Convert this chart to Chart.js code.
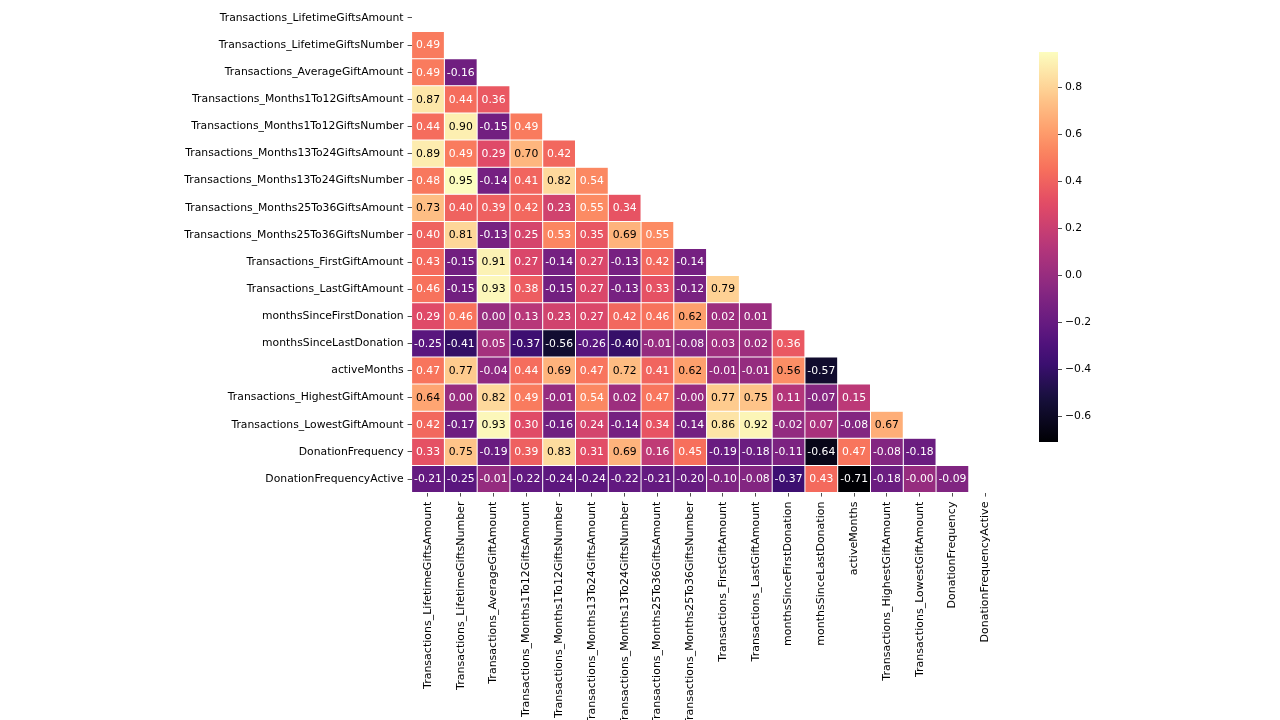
<!DOCTYPE html>
<html>
<head>
<meta charset="utf-8">
<script src="https://cdn.jsdelivr.net/npm/chart.js@4.4.1/dist/chart.umd.min.js"></script>
<style>
  html, body { margin: 0; padding: 0; background: #fff; }
  #wrap { position: relative; width: 1280px; height: 720px; overflow: hidden; }
  #main { position: absolute; left: 0; top: 0; width: 1280px; height: 720px; }
  #cbar { position: absolute; left: 1039px; top: 0; width: 80px; height: 720px; }
</style>
</head>
<body>
<div id="wrap">
  <div id="main"><canvas id="heat"></canvas></div>
  <div id="cbar"><canvas id="bar"></canvas></div>
</div>
<script>
const variables = [
  "Transactions_LifetimeGiftsAmount",
  "Transactions_LifetimeGiftsNumber",
  "Transactions_AverageGiftAmount",
  "Transactions_Months1To12GiftsAmount",
  "Transactions_Months1To12GiftsNumber",
  "Transactions_Months13To24GiftsAmount",
  "Transactions_Months13To24GiftsNumber",
  "Transactions_Months25To36GiftsAmount",
  "Transactions_Months25To36GiftsNumber",
  "Transactions_FirstGiftAmount",
  "Transactions_LastGiftAmount",
  "monthsSinceFirstDonation",
  "monthsSinceLastDonation",
  "activeMonths",
  "Transactions_HighestGiftAmount",
  "Transactions_LowestGiftAmount",
  "DonationFrequency",
  "DonationFrequencyActive"
];

// lower-triangle correlations, row i holds columns 0..i-1
const corrRows = [
  [],
  [0.49],
  [0.49, -0.16],
  [0.87, 0.44, 0.36],
  [0.44, 0.90, -0.15, 0.49],
  [0.89, 0.49, 0.29, 0.70, 0.42],
  [0.48, 0.95, -0.14, 0.41, 0.82, 0.54],
  [0.73, 0.40, 0.39, 0.42, 0.23, 0.55, 0.34],
  [0.40, 0.81, -0.13, 0.25, 0.53, 0.35, 0.69, 0.55],
  [0.43, -0.15, 0.91, 0.27, -0.14, 0.27, -0.13, 0.42, -0.14],
  [0.46, -0.15, 0.93, 0.38, -0.15, 0.27, -0.13, 0.33, -0.12, 0.79],
  [0.29, 0.46, 0.00, 0.13, 0.23, 0.27, 0.42, 0.46, 0.62, 0.02, 0.01],
  [-0.25, -0.41, 0.05, -0.37, -0.56, -0.26, -0.40, -0.01, -0.08, 0.03, 0.02, 0.36],
  [0.47, 0.77, -0.04, 0.44, 0.69, 0.47, 0.72, 0.41, 0.62, -0.01, -0.01, 0.56, -0.57],
  [0.64, 0.00, 0.82, 0.49, -0.01, 0.54, 0.02, 0.47, -0.004, 0.77, 0.75, 0.11, -0.07, 0.15],
  [0.42, -0.17, 0.93, 0.30, -0.16, 0.24, -0.14, 0.34, -0.14, 0.86, 0.92, -0.02, 0.07, -0.08, 0.67],
  [0.33, 0.75, -0.19, 0.39, 0.83, 0.31, 0.69, 0.16, 0.45, -0.19, -0.18, -0.11, -0.64, 0.47, -0.08, -0.18],
  [-0.21, -0.25, -0.01, -0.22, -0.24, -0.24, -0.22, -0.21, -0.20, -0.10, -0.08, -0.37, 0.43, -0.71, -0.18, -0.004, -0.09]
];

// colour bar range and ticks
const colorMin = -0.71;
const colorMax = 0.95;
const colorbarTicks = [-0.6, -0.4, -0.2, 0.0, 0.2, 0.4, 0.6, 0.8];

// magma colormap anchors
const magmaStops = [
  [0.000, "#000004"], [0.100, "#140e36"], [0.125, "#1c1044"], [0.200, "#3b0f70"],
  [0.250, "#4f127b"], [0.300, "#641a80"], [0.375, "#812581"], [0.400, "#8c2981"],
  [0.500, "#b5367a"], [0.600, "#de4968"], [0.625, "#e55064"], [0.700, "#f7705c"],
  [0.750, "#fb8761"], [0.800, "#fe9f6d"], [0.875, "#fec287"], [0.900, "#fecf92"],
  [1.000, "#fcfdbf"]
];

function hexToRgb(h) {
  return [parseInt(h.slice(1,3),16), parseInt(h.slice(3,5),16), parseInt(h.slice(5,7),16)];
}
function magma(t) {
  t = Math.max(0, Math.min(1, t));
  for (let k = 1; k < magmaStops.length; k++) {
    if (t <= magmaStops[k][0]) {
      const [t0, c0] = magmaStops[k-1], [t1, c1] = magmaStops[k];
      const f = (t - t0) / (t1 - t0);
      const a = hexToRgb(c0), b = hexToRgb(c1);
      return a.map((v, i) => Math.round(v + (b[i] - v) * f));
    }
  }
  return hexToRgb(magmaStops[magmaStops.length-1][1]);
}
function cellRgb(v) { return magma((v - colorMin) / (colorMax - colorMin)); }
function cellColor(v) { const c = cellRgb(v); return `rgb(${c[0]},${c[1]},${c[2]})`; }
function textColor(v) {
  const lin = cellRgb(v).map(c => { c /= 255; return c <= 0.03928 ? c / 12.92 : Math.pow((c + 0.055) / 1.055, 2.4); });
  const lum = 0.2126 * lin[0] + 0.7152 * lin[1] + 0.0722 * lin[2];
  return lum > 0.403 ? "#000000" : "#ffffff";
}

Chart.defaults.font.family = "'DejaVu Sans', sans-serif";
Chart.defaults.font.size = 10.8;
Chart.defaults.color = "#000";

const n = variables.length;
const datasets = corrRows.map((row, i) => ({
  label: variables[i],
  data: variables.map((_, j) => (j < row.length ? [i - 0.5, i + 0.5] : null)),
  backgroundColor: ctx => {
    const v = corrRows[ctx.datasetIndex][ctx.dataIndex];
    return v === undefined ? "rgba(0,0,0,0)" : cellColor(v);
  },
  borderColor: "#ffffff",
  borderWidth: 0.5,
  borderSkipped: false,
  grouped: false,
  barPercentage: 1.0,
  categoryPercentage: 1.0,
  inflateAmount: 0
}));

const annotate = {
  id: "annotate",
  afterDatasetsDraw(chart) {
    const c = chart.ctx;
    c.save();
    c.font = "10.8px 'DejaVu Sans', sans-serif";
    c.textAlign = "center";
    c.textBaseline = "middle";
    chart.data.datasets.forEach((ds, i) => {
      const meta = chart.getDatasetMeta(i);
      meta.data.forEach((el, j) => {
        const v = corrRows[i][j];
        if (v === undefined) return;
        const p = el.getCenterPoint();
        c.fillStyle = textColor(v);
        c.fillText(v.toFixed(2), p.x, p.y + 0.5);
      });
    });
    c.restore();
  }
};

function zeroPad(s) { s.paddingTop = 0; s.paddingBottom = 0; s.paddingLeft = 0; s.paddingRight = 0; }

new Chart(document.getElementById("heat"), {
  type: "bar",
  data: { labels: variables, datasets },
  options: {
    responsive: true,
    maintainAspectRatio: false,
    animation: false,
    events: [],
    layout: { padding: { left: 0, right: 278.4, top: 4.4, bottom: 0 } },
    plugins: { legend: { display: false }, tooltip: { enabled: false } },
    scales: {
      x: {
        type: "category",
        offset: true,
        border: { display: false },
        grid: { display: true, drawOnChartArea: false, drawTicks: true, tickLength: 4, color: "#222", offset: false, lineWidth: 0.8 },
        ticks: { autoSkip: false, maxRotation: 90, minRotation: 90, padding: 5, color: "#000", font: { size: 11 } },
        afterFit: s => { s.height = 227.4; zeroPad(s); }
      },
      y: {
        type: "linear",
        reverse: true,
        min: -0.5,
        max: n - 0.5,
        border: { display: false },
        grid: { display: true, drawOnChartArea: false, drawTicks: true, tickLength: 4, color: "#222", lineWidth: 0.8 },
        afterBuildTicks: s => { s.ticks = variables.map((_, i) => ({ value: i })); },
        ticks: { autoSkip: false, padding: 4, color: "#000", callback: v => variables[v] },
        afterFit: s => { s.width = 411.6; zeroPad(s); }
      }
    }
  },
  plugins: [annotate]
});

new Chart(document.getElementById("bar"), {
  type: "bar",
  data: {
    labels: ["scale"],
    datasets: [{
      data: [[colorMin, colorMax]],
      backgroundColor: ctx => {
        const ca = ctx.chart.chartArea;
        if (!ca) return "#000";
        const g = ctx.chart.ctx.createLinearGradient(0, ca.bottom, 0, ca.top);
        magmaStops.forEach(([t, col]) => g.addColorStop(t, col));
        return g;
      },
      borderWidth: 0,
      barPercentage: 1.0,
      categoryPercentage: 1.0,
      inflateAmount: 0
    }]
  },
  options: {
    responsive: true,
    maintainAspectRatio: false,
    animation: false,
    events: [],
    layout: { padding: { left: 0, right: 0, top: 52, bottom: 278 } },
    plugins: { legend: { display: false }, tooltip: { enabled: false } },
    scales: {
      x: { display: false },
      y: {
        position: "right",
        min: colorMin,
        max: colorMax,
        border: { display: false },
        grid: { display: true, drawOnChartArea: false, drawTicks: true, tickLength: 4, color: "#222", lineWidth: 0.8 },
        afterBuildTicks: s => { s.ticks = colorbarTicks.map(v => ({ value: v })); },
        ticks: { padding: 3, color: "#000", callback: v => (v < 0 ? "\u2212" : "") + Math.abs(v).toFixed(1) },
        afterFit: s => { s.width = 61; zeroPad(s); }
      }
    }
  }
});
</script>
</body>
</html>
